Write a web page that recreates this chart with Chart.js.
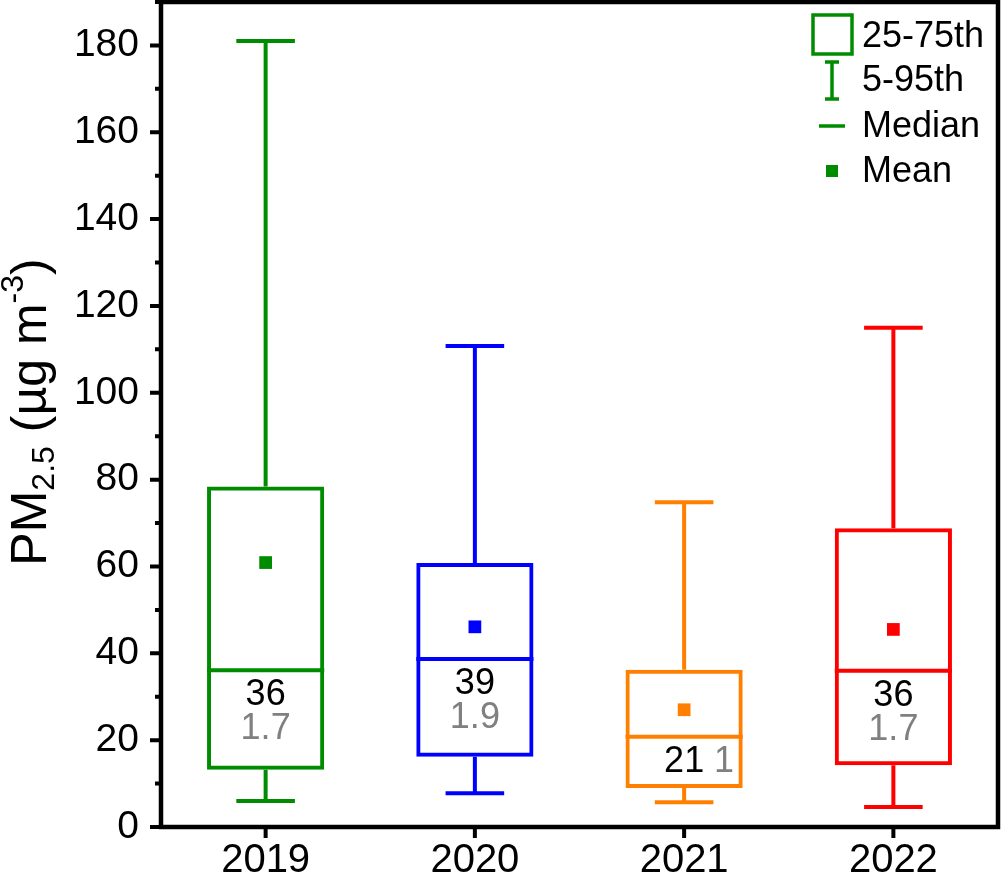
<!DOCTYPE html>
<html>
<head>
    <title>PM2.5 box chart</title>
    <script src="https://cdn.jsdelivr.net/npm/chart.js"></script>
    <style>
        body { margin: 0; background: #fff; }
        .wrap { width: 1004px; height: 879px; position: relative; }
    </style>
</head>
<body>
    <div class="wrap"><canvas id="boxChart"></canvas></div>
    <script>
        // values (PM2.5, ug m-3)
        const years = ['2019', '2020', '2021', '2022'];
        const p95 = [181, 110.8, 74.8, 115];
        const q3 = [78.4, 60.8, 36.2, 68.8];
        const median = [36.1, 38.7, 20.8, 36.0];
        const mean = [60.9, 46.1, 27.0, 45.5];
        const q1 = [13.2, 16.2, 9.0, 14.2];
        const p5 = [6.0, 7.8, 5.7, 4.6];
        const medianText = ['36', '39', '21', '36'];
        const ratioText = ['1.7', '1.9', '1', '1.7'];
        const yTicks = [0, 20, 40, 60, 80, 100, 120, 140, 160, 180];

        const colors = ['#008c00', '#0000ff', '#ff8000', '#ff0000'];
        const FONT = 'Arial, "Liberation Sans", sans-serif';

        // whiskers, medians, labels, frame, ticks, legend, axis title
        const boxExtras = {
            id: 'boxExtras',
            afterDatasetsDraw(chart) {
                const ctx = chart.ctx;
                const xs = chart.scales.x, ys = chart.scales.y;
                const area = chart.chartArea;
                const bars = chart.getDatasetMeta(0).data;
                ctx.save();
                ctx.lineWidth = 4;
                ctx.lineCap = 'butt';
                years.forEach((yr, i) => {
                    const x = xs.getPixelForValue(i);
                    const w = bars[i].width;
                    const cap = w / 2;
                    ctx.strokeStyle = colors[i];
                    ctx.beginPath();
                    // upper whisker
                    ctx.moveTo(x, ys.getPixelForValue(q3[i]));
                    ctx.lineTo(x, ys.getPixelForValue(p95[i]));
                    ctx.moveTo(x - cap / 2, ys.getPixelForValue(p95[i]));
                    ctx.lineTo(x + cap / 2, ys.getPixelForValue(p95[i]));
                    // lower whisker
                    ctx.moveTo(x, ys.getPixelForValue(q1[i]));
                    ctx.lineTo(x, ys.getPixelForValue(p5[i]));
                    ctx.moveTo(x - cap / 2, ys.getPixelForValue(p5[i]));
                    ctx.lineTo(x + cap / 2, ys.getPixelForValue(p5[i]));
                    // median
                    ctx.moveTo(x - w / 2, ys.getPixelForValue(median[i]));
                    ctx.lineTo(x + w / 2, ys.getPixelForValue(median[i]));
                    ctx.stroke();

                    // labels under the median
                    const my = ys.getPixelForValue(median[i]);
                    const by = ys.getPixelForValue(q1[i]);
                    ctx.font = '36px ' + FONT;
                    ctx.textBaseline = 'middle';
                    ctx.textAlign = 'center';
                    ctx.fillStyle = '#000';
                    ctx.fillText(medianText[i], x, my + 25);
                    ctx.fillStyle = '#808080';
                    if (by - my < 70) {
                        ctx.fillText(ratioText[i], x + 40, my + 25);
                    } else {
                        ctx.fillText(ratioText[i], x, my + 59);
                    }
                });

                // frame
                ctx.strokeStyle = '#000';
                ctx.lineWidth = 4.5;
                ctx.strokeRect(area.left, area.top, area.right - area.left, area.bottom - area.top);

                // y ticks (major + minor), outward
                ctx.lineWidth = 4;
                ctx.beginPath();
                for (let v = 0; v <= 190; v += 10) {
                    const y = ys.getPixelForValue(v);
                    const len = v % 20 === 0 ? 11 : 6;
                    ctx.moveTo(area.left, y);
                    ctx.lineTo(area.left - len, y);
                }
                // x ticks
                years.forEach((yr, i) => {
                    const x = xs.getPixelForValue(i);
                    ctx.moveTo(x, area.bottom);
                    ctx.lineTo(x, area.bottom + 11);
                });
                ctx.stroke();

                // legend
                const g = colors[0];
                ctx.strokeStyle = g;
                ctx.fillStyle = g;
                ctx.lineWidth = 3.5;
                ctx.strokeRect(813, 15, 39, 39);
                ctx.beginPath();
                ctx.moveTo(832, 62); ctx.lineTo(832, 99);
                ctx.moveTo(825, 62); ctx.lineTo(839, 62);
                ctx.moveTo(825, 99); ctx.lineTo(839, 99);
                ctx.moveTo(819, 126); ctx.lineTo(845, 126);
                ctx.stroke();
                ctx.fillRect(826, 165, 12, 12);
                ctx.fillStyle = '#000';
                ctx.font = '36px ' + FONT;
                ctx.textAlign = 'left';
                ctx.textBaseline = 'middle';
                ctx.fillText('25-75th', 862, 37);
                ctx.fillText('5-95th', 862, 81);
                ctx.fillText('Median', 862, 127);
                ctx.fillText('Mean', 862, 172);

                // y axis title with sub/superscript
                const parts = [
                    { t: 'PM', s: 50, dy: 0 },
                    { t: '2.5', s: 32, dy: 8 },
                    { t: ' (\u00b5g m', s: 50, dy: 0 },
                    { t: '-3', s: 32, dy: -23 },
                    { t: ')', s: 50, dy: 0 }
                ];
                let total = 0;
                parts.forEach(p => { ctx.font = p.s + 'px ' + FONT; p.w = ctx.measureText(p.t).width; total += p.w; });
                ctx.translate(46, 412);
                ctx.rotate(-Math.PI / 2);
                ctx.textBaseline = 'alphabetic';
                let cx = -total / 2;
                parts.forEach(p => {
                    ctx.font = p.s + 'px ' + FONT;
                    ctx.fillText(p.t, cx, p.dy);
                    cx += p.w;
                });
                ctx.restore();
            }
        };

        new Chart(document.getElementById('boxChart'), {
            data: {
                labels: years,
                datasets: [{
                    type: 'bar',
                    label: '25-75th',
                    data: years.map((y, i) => [q1[i], q3[i]]),
                    backgroundColor: 'rgba(255,255,255,0)',
                    borderColor: colors,
                    borderWidth: 4,
                    borderSkipped: false,
                    barPercentage: 0.56,
                    categoryPercentage: 1
                }, {
                    type: 'line',
                    label: 'Mean',
                    data: mean,
                    showLine: false,
                    pointStyle: 'rect',
                    pointRadius: 9,
                    pointBackgroundColor: colors,
                    pointBorderColor: colors,
                    pointBorderWidth: 0
                }]
            },
            options: {
                responsive: true,
                maintainAspectRatio: false,
                animation: false,
                layout: { autoPadding: false, padding: { top: 2, right: 6, left: 0, bottom: 0 } },
                plugins: {
                    legend: { display: false },
                    tooltip: { enabled: false }
                },
                scales: {
                    x: {
                        offset: true,
                        grid: { display: false, drawTicks: false },
                        border: { display: false },
                        ticks: { color: '#000', font: { size: 40, family: FONT }, padding: 10 },
                        afterFit: s => { s.height = 52; s.paddingLeft = 0; s.paddingRight = 0; }
                    },
                    y: {
                        min: 0,
                        max: 190,
                        afterBuildTicks: s => { s.ticks = yTicks.map(v => ({ value: v })); },
                        grid: { display: false, drawTicks: false },
                        border: { display: false },
                        ticks: { color: '#000', font: { size: 39, family: FONT }, padding: 22 },
                        afterFit: s => { s.width = 161; s.paddingTop = 0; s.paddingBottom = 0; }
                    }
                }
            },
            plugins: [boxExtras]
        });
    </script>
</body>
</html>
